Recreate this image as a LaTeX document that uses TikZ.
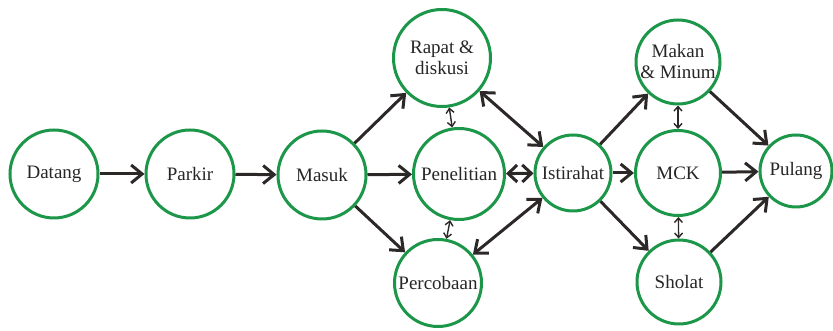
\documentclass[tikz,border=0pt]{standalone}
\usepackage{fontspec}
\setmainfont{Liberation Serif}
\usetikzlibrary{arrows.meta}
\definecolor{ringgreen}{RGB}{28,150,72}
\definecolor{flowgray}{RGB}{45,40,40}
\tikzset{
  stage/.style={circle, draw=ringgreen, line width=3pt, fill=white,
    inner sep=0pt, align=center, text=black!85,
    font=\fontsize{19}{21}\selectfont},
  flow/.style={draw=flowgray, line width=3pt,
    -{Straight Barb[length=11pt,width=18pt,line width=3pt]}},
  twoway/.style={draw=flowgray, line width=3pt,
    {Straight Barb[length=11pt,width=18pt,line width=3pt]}-{Straight Barb[length=11pt,width=18pt,line width=3pt]}},
  shorttwoway/.style={draw=flowgray, line width=3pt,
    {Straight Barb[length=9pt,width=17pt,line width=3pt]}-{Straight Barb[length=9pt,width=17pt,line width=3pt]}},
  link/.style={draw=flowgray, line width=1.4pt,
    {Straight Barb[length=4.5pt,width=8pt,line width=1.4pt]}-{Straight Barb[length=4.5pt,width=8pt,line width=1.4pt]}}
}
\begin{document}
\begin{tikzpicture}[x=1pt,y=1pt]
\useasboundingbox (0,0) rectangle (833,331);
% stages
\node[stage, minimum size=88pt] (datang) at (54,157) {Datang};
\node[stage, minimum size=88pt] (parkir) at (190,157) {Parkir};
\node[stage, minimum size=88pt] (masuk) at (322,156) {Masuk};
\node[stage, minimum size=97pt] (rapat) at (442,273) {Rapat \&\\diskusi};
\node[stage, minimum size=91pt] (penelitian) at (459,157) {Penelitian};
\node[stage, minimum size=87pt] (percobaan) at (438,48) {Percobaan};
\node[stage, minimum size=76pt] (istirahat) at (573,158) {Istirahat};
\node[stage, minimum size=84pt] (makan) at (678,269) {Makan\\\& Minum};
\node[stage, minimum size=85pt] (mck) at (678,158) {MCK};
\node[stage, minimum size=84pt] (sholat) at (679,49) {Sholat};
\node[stage, minimum size=72pt] (pulang) at (796,160) {Pulang};
% arrival
\draw[flow] (datang) -- (parkir);
\draw[flow] (parkir) -- (masuk);
% work activities
\draw[flow] (masuk) -- (rapat);
\draw[flow] (masuk) -- (penelitian);
\draw[flow] (masuk) -- (percobaan);
\draw[link] (rapat) -- (penelitian);
\draw[link] (penelitian) -- (percobaan);
% break
\draw[twoway] (rapat) -- (istirahat);
\draw[shorttwoway] (penelitian) -- (istirahat);
\draw[twoway] (percobaan) -- (istirahat);
\draw[flow] (istirahat) -- (makan);
\draw[flow] (istirahat) -- (mck);
\draw[flow] (istirahat) -- (sholat);
\draw[link] (makan) -- (mck);
\draw[link] (mck) -- (sholat);
% departure
\draw[flow] (makan) -- (pulang);
\draw[flow] (mck) -- (pulang);
\draw[flow] (sholat) -- (pulang);
\end{tikzpicture}
\end{document}
